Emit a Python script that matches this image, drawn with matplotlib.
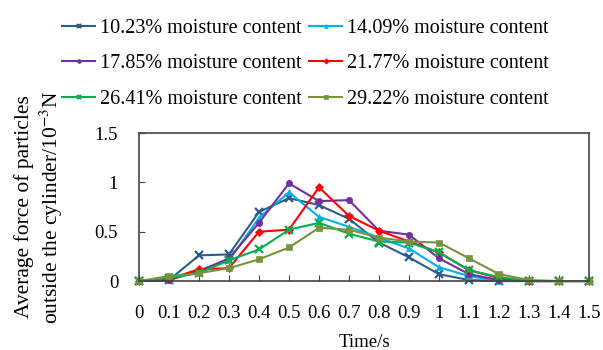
import matplotlib.pyplot as plt

# time axis
time = [0, 0.1, 0.2, 0.3, 0.4, 0.5, 0.6, 0.7, 0.8, 0.9, 1.0, 1.1, 1.2, 1.3, 1.4, 1.5]
xtick_labels = ["0", "0.1", "0.2", "0.3", "0.4", "0.5", "0.6", "0.7",
                "0.8", "0.9", "1", "1.1", "1.2", "1.3", "1.4", "1.5"]

# average force of particles outside the cylinder (10^-3 N)
mc_1023 = [0, 0.01, 0.26, 0.27, 0.70, 0.84, 0.77, 0.63, 0.39, 0.24, 0.07, 0.01, 0, 0, 0, 0]
mc_1409 = [0, 0.01, 0.11, 0.21, 0.64, 0.90, 0.65, 0.55, 0.44, 0.33, 0.14, 0.05, 0, 0, 0, 0]
mc_1785 = [0, 0.01, 0.10, 0.23, 0.59, 0.99, 0.81, 0.82, 0.51, 0.47, 0.23, 0.07, 0.01, 0, 0, 0]
mc_2177 = [0, 0.02, 0.12, 0.13, 0.50, 0.52, 0.95, 0.66, 0.51, 0.40, 0.29, 0.11, 0.03, 0, 0, 0]
mc_2641 = [0, 0.03, 0.08, 0.21, 0.32, 0.52, 0.59, 0.48, 0.40, 0.39, 0.29, 0.11, 0.04, 0, 0, 0]
mc_2922 = [0, 0.05, 0.08, 0.13, 0.22, 0.34, 0.54, 0.52, 0.44, 0.40, 0.39, 0.23, 0.07, 0.01, 0, 0]

series = [
    ("10.23% moisture content", mc_1023, "#2E5C8A", "x"),
    ("14.09% moisture content", mc_1409, "#00B0F0", "^"),
    ("17.85% moisture content", mc_1785, "#7030A0", "o"),
    ("21.77% moisture content", mc_2177, "#FF0000", "D"),
    ("26.41% moisture content", mc_2641, "#00B050", "x"),
    ("29.22% moisture content", mc_2922, "#77933C", "s"),
]

plt.rcParams['font.family'] = ['Liberation Serif', 'DejaVu Serif']
plt.rcParams['mathtext.fontset'] = 'stix'

fig = plt.figure(figsize=(6.03, 3.5), dpi=100)
ax = fig.add_axes([0.2305, 0.197, 0.7463, 0.423])

handles = []
for label, vals, color, marker in series:
    ms = 6 if marker == "x" else 4.5
    h, = ax.plot(time, vals, color=color, marker=marker, markersize=ms,
                 linewidth=1.5, markeredgewidth=1.6 if marker == "x" else 0.5,
                 label=label, clip_on=False)
    handles.append(h)

ax.set_xlim(0, 1.5)
ax.set_ylim(0, 1.5)
ax.set_xticks(time)
ax.set_xticklabels(xtick_labels)
ax.set_yticks([0, 0.5, 1, 1.5])
ax.set_yticklabels(["0", "0.5", "1", "1.5"])
ax.tick_params(direction='in', labelsize=13.5, length=4, color='#444444')
ax.tick_params(axis='x', pad=17)
ax.tick_params(axis='y', pad=15)
for s in ax.spines.values():
    s.set_color('#444444')
    s.set_linewidth(1.2)

ax.set_xlabel('Time/s', fontsize=13.5, labelpad=9)
ax.set_ylabel('Average force of particles\noutside the cylinder/10$^{-3}$N',
              fontsize=15.5, labelpad=21, linespacing=1.2)

# legend fills row by row in the reference
order = [0, 2, 4, 1, 3, 5]
fig.legend([handles[i] for i in order], [series[i][0] for i in order],
           loc='upper left', bbox_to_anchor=(0.073, 0.998), ncol=2, frameon=False,
           fontsize=14.5, handlelength=1.65, handletextpad=0.25,
           columnspacing=0.35, labelspacing=0.81, markerscale=0.6)

fig.savefig('out.png', dpi=100)
